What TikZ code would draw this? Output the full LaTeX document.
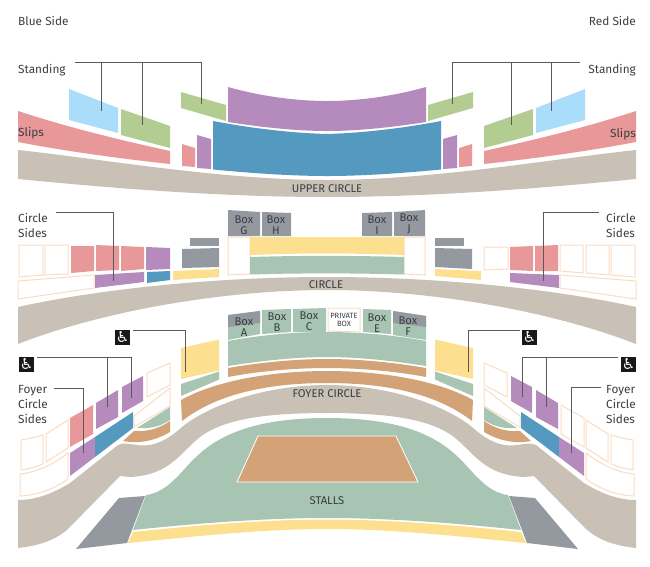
\documentclass[tikz,border=0pt]{standalone}
\usepackage{fontspec}
\setmainfont{Fira Sans}
\newfontfamily\wcfont{DejaVu Sans}
\definecolor{seatpink}{HTML}{E99899}
\definecolor{seatpurple}{HTML}{B58BBE}
\definecolor{seatblue}{HTML}{5499BF}
\definecolor{seatgreen}{HTML}{B2CC91}
\definecolor{seatsky}{HTML}{A9DDFA}
\definecolor{seattaupe}{HTML}{C9C0B6}
\definecolor{seatsea}{HTML}{A8C4B3}
\definecolor{seatorange}{HTML}{D3A377}
\definecolor{seatyellow}{HTML}{FDE08F}
\definecolor{seatgray}{HTML}{93999E}
\definecolor{seatpeach}{HTML}{F9DCC4}
\definecolor{inkgray}{HTML}{3A3E42}
\tikzset{
	emptyseat/.style={draw=seatpeach,line width=1pt,fill=white},
	pinkseat/.style={fill=seatpink},
	leader/.style={draw=black!65,line width=0.7pt},
	sidelabel/.style={text=inkgray,inner sep=0pt,align=left,font=\fontsize{11.8}{14.8}\selectfont},
	arealabel/.style={text=inkgray,inner sep=0pt,font=\fontsize{11.2}{12}\selectfont},
	boxlabel/.style={text=inkgray,inner sep=0pt,align=center,font=\fontsize{11.2}{10.5}\selectfont},
	wcicon/.style={fill=black!90,text=white,inner sep=0pt,minimum size=15pt,font=\wcfont\fontsize{15}{15}\selectfont}
}
% one half of the house, drawn again mirrored
\newcommand\halfhouse[1]{
	%%%%% UPPER %%%%%
	\fill[seatsky] (69,89) -- (118,108) -- (118,133) -- (69,120) -- cycle;
	\fill[seatgreen] (121,109) -- (170,126) -- (170,148) -- (121,135) -- cycle;
	\fill[seatgreen] (181,92) -- (226,105) -- (226,121) -- (181,108) -- cycle;
	\fill[seatpink] (18,111) .. controls (70,128) and (120,140) .. (170,151) -- (170,164) .. controls (115,158) and (65,151) .. (18,142) -- cycle;
	\fill[seatpink] (182,144) -- (195,148) -- (195,167) -- (182,166) -- cycle;
	\fill[seatpurple] (197,135) -- (211,139) -- (211,169) -- (197,168) -- cycle;
	\fill[seatpurple] (228,87) .. controls (260,96) and (295,101) .. (327.3,101) -- (327.3,131) .. controls (295,131) and (260,127) .. (228,122) -- cycle;
	\fill[seatblue] (213,121) .. controls (250,128) and (290,133) .. (327.3,134) -- (327.3,176) .. controls (290,176) and (250,173) .. (213,169.5) -- cycle;
	\fill[seattaupe] (18,150) .. controls (100,158.6) and (220,180) .. (327.3,180) -- (327.3,197) .. controls (220,197) and (110,188) .. (18,179) -- cycle;
	%%%%% CIRCLE BAND %%%%%
	\fill[seattaupe] (18,307) .. controls (85,292) and (200,277) .. (327.3,277) -- (327.3,290) .. controls (220,290) and (100,312) .. (18,344) -- cycle;
	%%%%% FOYER %%%%%
	\fill[seatyellow] (181,348) -- (219,339.5) -- (219,370.5) -- (181,379) -- cycle;
	\fill[seatsea] (181,384) -- (219,371.5) -- (219,379.5) -- (181,396) -- cycle;
	\fill[seatsea] (228,341) .. controls (260,335) and (295,332) .. (327.3,332) -- (327.3,357) .. controls (295,357) and (260,361) .. (228,366) -- cycle;
	\fill[seatorange] (228,368) .. controls (260,362.5) and (295,359) .. (327.3,359) -- (327.3,368) .. controls (295,368) and (260,371) .. (228,377) -- cycle;
	\fill[seatorange] (181,400) .. controls (215,381) and (270,371) .. (327.3,371) -- (327.3,383) .. controls (270,383) and (218,393) .. (182,421) -- cycle;
	\fill[seattaupe] (18,500) .. controls (35,500) and (52,494) .. (70,483) -- (118,445) .. controls (127,441) and (135,447) .. (150,445) .. controls (165,442) and (175,433) .. (182,427) .. controls (205,408) and (260,385) .. (327.3,385) -- (327.3,413) .. controls (270,413) and (225,418) .. (200,437) .. controls (180,453) and (170,475) .. (130,477) -- (120,476) -- (70,527) .. controls (55,542) and (35,546) .. (18,548) -- cycle;
	%%%%% FOYER SIDES %%%%%
	\draw[emptyseat] (21,440) .. controls (28,439) and (36,437) .. (43,435) -- (43,464) .. controls (36,467) and (28,469) .. (21,470) -- cycle;
	\draw[emptyseat] (46,434) -- (68,420) -- (68,448) -- (46,462) -- cycle;
	\path[#1] (70,418) -- (93,405) -- (93,434) -- (70,447) -- cycle;
	\fill[seatpurple] (96,403) -- (118,390) -- (118,417) -- (96,429) -- cycle;
	\fill[seatpurple] (122,387) -- (143,376) -- (143,401) -- (122,413) -- cycle;
	\draw[emptyseat] (147,373) -- (170,363) -- (170,385) -- (147,397) -- cycle;
	\draw[emptyseat] (134,416) -- (170,388) -- (170,406) -- (134,427) -- cycle;
	\fill[seatsea] (137,428) -- (170,407) -- (170,420) .. controls (160,427) and (148,429) .. (137,428) -- cycle;
	\fill[seatorange] (123,441) -- (134,431) .. controls (148,432) and (160,428) .. (170,421) -- (170,432) .. controls (155,441) and (138,444) .. (123,441) -- cycle;
	\fill[seatblue] (95,437) -- (133,412) -- (133,428) -- (95,457) -- cycle;
	\fill[seatpurple] (70,453) -- (95,437) -- (95,457) -- (70,476) -- cycle;
	\draw[emptyseat] (20,474) .. controls (38,472) and (52,465) .. (68,453) -- (68,479) .. controls (52,490) and (38,495) .. (20,496) -- cycle;
	%%%%% STALLS %%%%%
	\fill[seatgray] (119,498) -- (145,496) -- (127,543) -- (76,549) -- cycle;
	\fill[seatsea] (146,495) .. controls (162,493) and (172,482) .. (180,474) .. controls (200,452) and (225,418) .. (327.3,418) -- (327.3,518) .. controls (260,518) and (190,524) .. (133,530) -- cycle;
	\fill[seatyellow] (133,532) .. controls (190,526) and (260,519.5) .. (327.3,519.5) -- (327.3,529) .. controls (260,529) and (190,537) .. (128,543) -- cycle;
}

\begin{document}
\begin{tikzpicture}[x=1pt,y=-1pt]
	\useasboundingbox (0,0) rectangle (650,566);

	\halfhouse{pinkseat}
	\begin{scope}[shift={(654,0)},xscale=-1]
		\halfhouse{emptyseat}
	\end{scope}

	%%%%% CIRCLE LEFT %%%%%
	\draw[emptyseat] (19,245) -- (43,245) -- (43,275) -- (19,277) -- cycle;
	\draw[emptyseat] (45,245) -- (68,245) -- (68,274) -- (45,275) -- cycle;
	\fill[seatpink] (71,246) -- (94,246) -- (94,271) -- (71,273) -- cycle;
	\fill[seatpink] (96,245) -- (119,246) -- (119,270) -- (96,271) -- cycle;
	\fill[seatpink] (121,246) -- (144,247) -- (144,269) -- (121,271) -- cycle;
	\fill[seatpurple] (146,247) -- (170,248) -- (170,269) -- (146,270) -- cycle;
	\draw[emptyseat] (18,281) -- (94,275) -- (94,288) -- (18,299) -- cycle;
	\fill[seatpurple] (95,275) -- (144,272) -- (144,282) -- (95,288) -- cycle;
	\fill[seatblue] (147,272) -- (170,271) -- (170,280) -- (147,283) -- cycle;
	\fill[seatyellow] (173,271) -- (219,269) -- (219,277) -- (173,280) -- cycle;
	\fill[seatgray] (190,238) -- (219,238) -- (219,246) -- (190,246) -- cycle;
	\fill[seatgray] (182,249) -- (219,248) -- (219,267) -- (182,268) -- cycle;

	%%%%% CIRCLE MIDDLE %%%%%
	\fill[seatgray] (228,210) -- (260,212) -- (260,236) -- (228,236) -- cycle;
	\fill[seatgray] (262,212) -- (291,213) -- (291,236) -- (262,236) -- cycle;
	\fill[seatgray] (362,213) -- (392,212) -- (392,236) -- (362,236) -- cycle;
	\fill[seatgray] (394,212) -- (425,210) -- (425,236) -- (394,236) -- cycle;
	\draw[emptyseat] (228,237) -- (250,237) -- (250,274) -- (228,275) -- cycle;
	\draw[emptyseat] (404,237) -- (425,237) -- (425,275) -- (404,274) -- cycle;
	\fill[seatyellow] (250,237) -- (404,237) -- (404,255) .. controls (350,253) and (300,253) .. (250,255) -- cycle;
	\fill[seatsea] (250,257) .. controls (300,255.5) and (350,255.5) .. (404,257) -- (404,274.5) .. controls (350,273) and (300,273) .. (250,274.5) -- cycle;

	%%%%% CIRCLE RIGHT %%%%%
	\fill[seatgray] (435,238) -- (464,238) -- (464,246) -- (435,246) -- cycle;
	\fill[seatgray] (435,248) -- (472,249) -- (472,269) -- (435,267) -- cycle;
	\fill[seatyellow] (435,269) -- (481,271) -- (481,280) -- (435,276) -- cycle;
	\draw[emptyseat] (484,247) -- (508,247) -- (508,269) -- (484,270) -- cycle;
	\fill[seatpink] (510,247) -- (533,246) -- (533,271) -- (510,270) -- cycle;
	\fill[seatpink] (535,246) -- (558,245) -- (558,271) -- (535,271) -- cycle;
	\draw[emptyseat] (560,245) -- (583,245) -- (583,273) -- (560,271) -- cycle;
	\draw[emptyseat] (586,245) -- (609,245) -- (609,275) -- (586,273) -- cycle;
	\draw[emptyseat] (611,245) -- (635,245) -- (635,277) -- (611,275) -- cycle;
	\fill[seatpurple] (510,273) -- (559,275) -- (559,288) -- (510,282) -- cycle;
	\draw[emptyseat] (560,275) -- (636,281) -- (636,299) -- (560,288) -- cycle;

	%%%%% BOXES %%%%%
	\fill[seatsea] (228,315) -- (260,311) -- (260,334) -- (228,340) -- cycle;
	\fill[seatgray] (228,315) -- (260,311) -- (260,323) -- (228,327) -- cycle;
	\fill[seatsea] (262,310) -- (291,309) -- (291,332) -- (262,334) -- cycle;
	\fill[seatsea] (293,309) -- (326,308) -- (326,332) -- (293,332) -- cycle;
	\draw[emptyseat] (328,308) -- (360,308) -- (360,332) -- (328,331) -- cycle;
	\fill[seatsea] (363,309) -- (391,310) -- (391,334) -- (363,332) -- cycle;
	\fill[seatsea] (393,311) -- (426,316) -- (426,340) -- (393,335) -- cycle;
	\fill[seatgray] (393,311) -- (426,316) -- (426,327) -- (393,323) -- cycle;

	%%%%% STAGE %%%%%
	\draw[white,line width=0.8pt,fill=seatorange] (258,436) -- (396,436) -- (418,482) -- (237,482) -- cycle;

	%%%%% LABELS %%%%%
	\node[sidelabel,anchor=west] (blueside) at (18,20.8) {Blue Side};
	\node[sidelabel,anchor=east] (redside) at (636,20.8) {Red Side};
	\node[sidelabel,anchor=west] (standleft) at (18,70) {Standing};
	\node[sidelabel,anchor=east] (standright) at (636,70) {Standing};
	\node[sidelabel,anchor=west] (slipsleft) at (18,133) {Slips};
	\node[sidelabel,anchor=east] (slipsright) at (636,134) {Slips};
	\node[sidelabel,anchor=west] (circleleft) at (18,225.5) {Circle\\Sides};
	\node[sidelabel,anchor=east,align=left] (circleright) at (636,225.5) {Circle\\Sides};
	\node[sidelabel,anchor=west] (foyerleft) at (18,404.5) {Foyer\\Circle\\Sides};
	\node[sidelabel,anchor=east,align=left] (foyerright) at (636,404.5) {Foyer\\Circle\\Sides};

	\node[arealabel] (uppercircle) at (327,189) {UPPER CIRCLE};
	\node[arealabel] (circle) at (326,285) {CIRCLE};
	\node[arealabel] (foyercircle) at (327,394) {FOYER CIRCLE};
	\node[arealabel] (stalls) at (327,501) {STALLS};

	\node[boxlabel] (boxg) at (244,225) {Box\\G};
	\node[boxlabel] (boxh) at (276,225) {Box\\H};
	\node[boxlabel] (boxi) at (377,225) {Box\\I};
	\node[boxlabel] (boxj) at (409,224) {Box\\J};
	\node[boxlabel] (boxa) at (244,327) {Box\\A};
	\node[boxlabel] (boxb) at (277,322) {Box\\B};
	\node[boxlabel] (boxc) at (309,321) {Box\\C};
	\node[boxlabel,font=\fontsize{7.6}{8.5}\selectfont] (boxp) at (344,320) {PRIVATE\\BOX};
	\node[boxlabel] (boxe) at (377,323) {Box\\E};
	\node[boxlabel] (boxf) at (408,326) {Box\\F};

	\node[wcicon] (wcupleft) at (122.5,337.5) {\char"267F};
	\node[wcicon] (wcupright) at (529.5,337.5) {\char"267F};
	\node[wcicon] (wclowleft) at (26.5,364.5) {\char"267F};
	\node[wcicon] (wclowright) at (628.5,364.5) {\char"267F};

	%%%%% LEADERS %%%%%
	\coordinate (standfromleft) at (75,62);
	\coordinate (skytipleft) at (101,111);
	\coordinate (greentipleft) at (142,125);
	\coordinate (smalltipleft) at (201,104);
	\draw[leader] (standfromleft) -| (smalltipleft);
	\draw[leader] (skytipleft |- standfromleft) -- (skytipleft);
	\draw[leader] (greentipleft |- standfromleft) -- (greentipleft);

	\coordinate (standfromright) at (580,62);
	\coordinate (skytipright) at (551,111);
	\coordinate (greentipright) at (511,125);
	\coordinate (smalltipright) at (452,104);
	\draw[leader] (standfromright) -| (smalltipright);
	\draw[leader] (skytipright |- standfromright) -- (skytipright);
	\draw[leader] (greentipright |- standfromright) -- (greentipright);

	\coordinate (circlefromleft) at (56,212);
	\coordinate (circletipleft) at (113,281);
	\draw[leader] (circlefromleft) -| (circletipleft);
	\coordinate (circlefromright) at (599,212);
	\coordinate (circletipright) at (543,281);
	\draw[leader] (circlefromright) -| (circletipright);

	\coordinate (wcfromupleft) at (133,330);
	\coordinate (yellowtipleft) at (185,372);
	\draw[leader] (wcfromupleft) -| (yellowtipleft);
	\coordinate (wcfromupright) at (520,330);
	\coordinate (yellowtipright) at (468,372);
	\draw[leader] (wcfromupright) -| (yellowtipright);

	\coordinate (wcfromlowleft) at (37,357);
	\coordinate (wctipa) at (131,398);
	\coordinate (wctipb) at (107,407);
	\draw[leader] (wcfromlowleft) -| (wctipa);
	\draw[leader] (wctipb |- wcfromlowleft) -- (wctipb);
	\coordinate (wcfromlowright) at (618,357);
	\coordinate (wctipc) at (522,397);
	\coordinate (wctipd) at (546,407);
	\draw[leader] (wcfromlowright) -| (wctipc);
	\draw[leader] (wctipd |- wcfromlowright) -- (wctipd);

	\coordinate (foyerfromleft) at (54,388);
	\coordinate (foyertipleft) at (83,453);
	\draw[leader] (foyerfromleft) -| (foyertipleft);
	\coordinate (foyerfromright) at (601,387);
	\coordinate (foyertipright) at (571,453);
	\draw[leader] (foyerfromright) -| (foyertipright);
\end{tikzpicture}
\end{document}
